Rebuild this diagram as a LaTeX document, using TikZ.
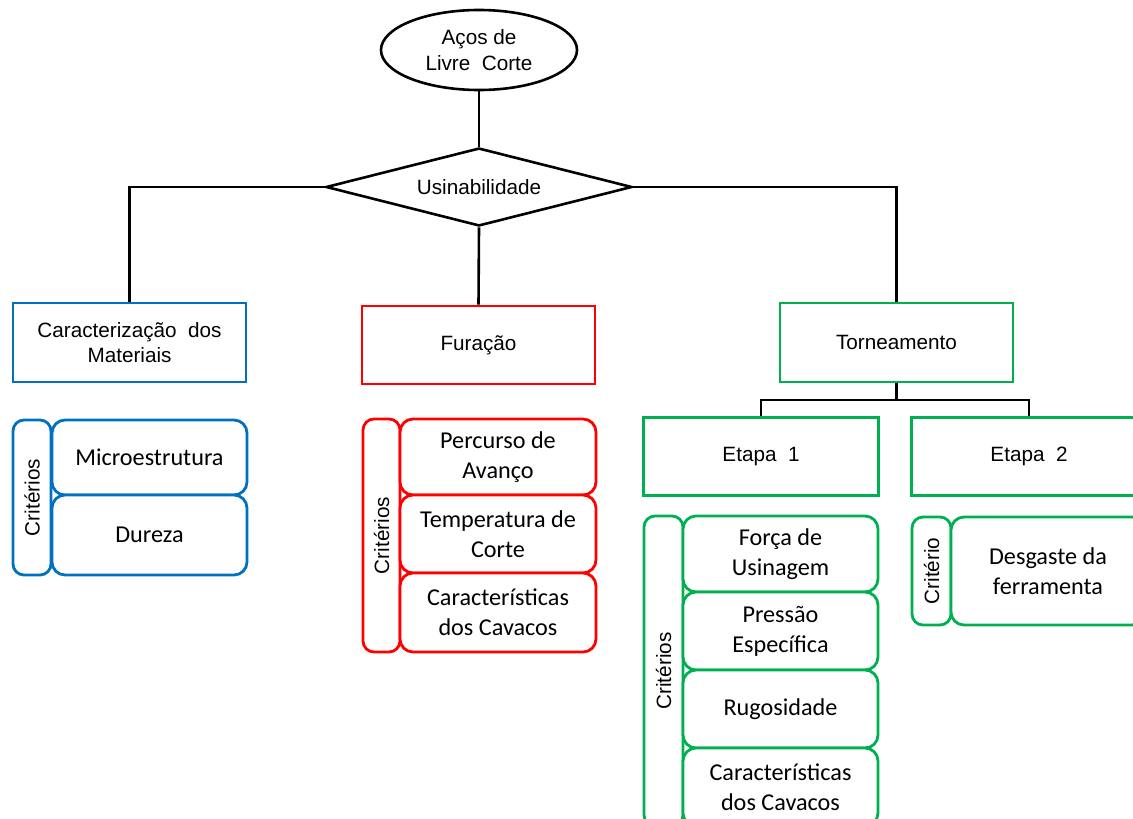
\documentclass[tikz,border=0pt]{standalone}
\usepackage{fontspec}
\setmainfont{Liberation Sans}
\newfontfamily\critfont{Carlito}
\usetikzlibrary{shapes.geometric}
\definecolor{cblue}{HTML}{0070C0}
\definecolor{cred}{HTML}{FF0000}
\definecolor{cgreen}{HTML}{00B050}
\begin{document}
\begin{tikzpicture}[x=1pt,y=-1pt,
  hdfont/.style={font=\fontsize{20.7}{25.5}\selectfont},
  ckfont/.style={font=\critfont\fontsize{24.2}{30}\selectfont},
  link/.style={draw=black,line width=2.6pt},
  topbox/.style={draw,line width=2.8pt,rectangle,inner sep=0pt,align=center,hdfont,fill=white},
  critbar/.style={draw,line width=2.8pt,rectangle,rounded corners=11pt,inner sep=0pt,fill=white},
  critbox/.style={draw,line width=2.8pt,rectangle,rounded corners=13pt,inner sep=0pt,align=center,ckfont,fill=white},
  barlabel/.style={rotate=90,hdfont,inner sep=0pt}
]
\useasboundingbox (0,0) rectangle (1133,819);
\clip (0,0) rectangle (1133,819);

% top of the tree
\node[draw,line width=2.6pt,ellipse,minimum width=196pt,minimum height=80pt,inner sep=0pt,align=center,hdfont]
  (ell) at (479,50) {Aços de\\Livre\ \ Corte};
\node[draw,line width=2.6pt,diamond,aspect=3.92,minimum width=306pt,minimum height=78pt,inner sep=0pt,hdfont]
  (dia) at (479,187) {Usinabilidade};

% main branches
\node[topbox,draw=cblue,minimum width=233pt,minimum height=79pt] (car) at (129.5,342.5) {Caracterização\ \ dos\\Materiais};
\node[topbox,draw=cred,minimum width=233pt,minimum height=78pt] (fur) at (478.5,345) {Furação};
\node[topbox,draw=cgreen,minimum width=233pt,minimum height=79pt] (tor) at (896.5,342.5) {Torneamento};
\node[topbox,draw=cgreen,minimum width=235pt,minimum height=78pt] (et1) at (761,456.5) {Etapa\ \ 1};
\node[topbox,draw=cgreen,minimum width=235pt,minimum height=78pt] (et2) at (1029,456.5) {Etapa\ \ 2};
\coordinate (split) at (896.5,400);

% connectors
\draw[link] (ell.south) -- (dia.north);
\draw[link] (dia.west) -| (car.north);
\draw[link] (dia.east) -| (tor.north);
\draw[link] (dia.south) -- (fur.north);
\draw[link] (tor.south) -- (split);
\draw[link] (split) -| (et1.north);
\draw[link] (split) -| (et2.north);

% criteria: material characterisation
\node[critbar,draw=cblue,minimum width=38pt,minimum height=155pt] (bc) at (32,497.5) {};
\node[barlabel] at (bc.center) {Critérios};
\node[critbox,draw=cblue,minimum width=195pt,minimum height=75pt] (b1) at (149.5,457.5) {Microestrutura};
\node[critbox,draw=cblue,minimum width=195pt,minimum height=80pt] (b2) at (149.5,535) {Dureza};

% criteria: drilling
\node[critbar,draw=cred,minimum width=37pt,minimum height=233pt] (rc) at (381.5,535.5) {};
\node[barlabel] at (rc.center) {Critérios};
\node[critbox,draw=cred,minimum width=196pt,minimum height=76pt] (r1) at (498,457) {Percurso de\\Avanço};
\node[critbox,draw=cred,minimum width=196pt,minimum height=78pt] (r2) at (498,534) {Temperatura de\\Corte};
\node[critbox,draw=cred,minimum width=196pt,minimum height=79pt] (r3) at (498,612.5) {Características\\dos Cavacos};

% criteria: turning, stage 1
\node[critbar,draw=cgreen,minimum width=39pt,minimum height=310pt] (gc) at (663.5,671) {};
\node[barlabel] at (gc.center) {Critérios};
\node[critbox,draw=cgreen,minimum width=195pt,minimum height=76pt] (g1) at (780.5,554) {Força de\\Usinagem};
\node[critbox,draw=cgreen,minimum width=195pt,minimum height=78pt] (g2) at (780.5,631) {Pressão\\Específica};
\node[critbox,draw=cgreen,minimum width=195pt,minimum height=78pt] (g3) at (780.5,709) {Rugosidade};
\node[critbox,draw=cgreen,minimum width=195pt,minimum height=78pt] (g4) at (780.5,787) {Características\\dos Cavacos};

% criteria: turning, stage 2
\node[critbar,draw=cgreen,minimum width=39pt,minimum height=108pt] (ec) at (931.5,571) {};
\node[barlabel] at (ec.center) {Critério};
\node[critbox,draw=cgreen,minimum width=194pt,minimum height=108pt] (e1) at (1048,571) {Desgaste da\\ferramenta};
\end{tikzpicture}
\end{document}
